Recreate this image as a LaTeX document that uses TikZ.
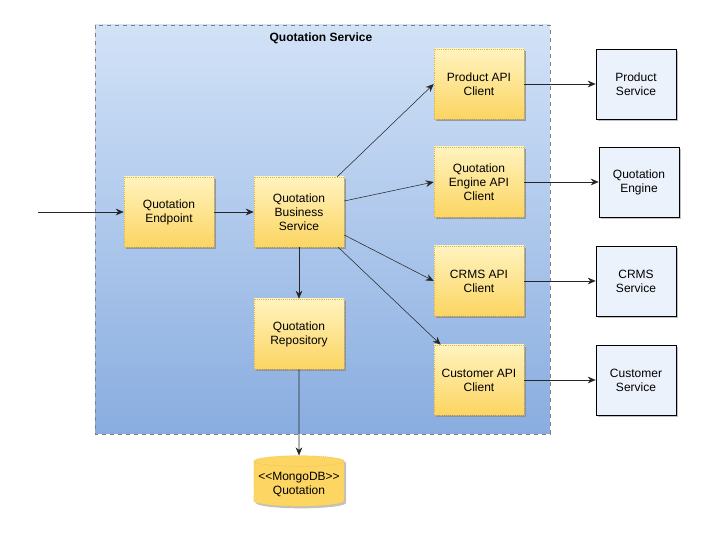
\documentclass[tikz,border=0pt]{standalone}
\usepackage{fontspec}
\setmainfont{Liberation Sans}
\usepackage{xcolor}
\usepackage{tikz}
\usetikzlibrary{arrows.meta,shapes.geometric,shadows,calc}

\definecolor{boxtop}{RGB}{255,243,190}
\definecolor{boxbottom}{RGB}{252,213,98}
\definecolor{boxline}{RGB}{214,182,86}
\definecolor{areatop}{RGB}{210,226,247}
\definecolor{areamid}{RGB}{188,208,240}
\definecolor{areabottom}{RGB}{137,173,224}
\definecolor{svcfill}{RGB}{236,242,251}

\begin{document}
\begin{tikzpicture}[x=0.75pt,y=-0.75pt,
	font=\fontsize{9}{10.5}\selectfont,
	part/.style={draw=boxline, densely dotted, top color=boxtop, bottom color=boxbottom,
		minimum width=67.5pt, minimum height=52.5pt, align=center,
		drop shadow={shadow xshift=1.5pt, shadow yshift=-1.5pt, fill=black!45, opacity=0.8}},
	svc/.style={draw=black, fill=svcfill, minimum width=60pt, minimum height=52.5pt, align=center,
		drop shadow={shadow xshift=1.5pt, shadow yshift=-1.5pt, fill=black!30, opacity=0.8}},
	arr/.style={-{Stealth[length=6pt,width=5pt]}, black!85}]
	\useasboundingbox (0,0) rectangle (715,538);
	% container
	\draw[gray, dashed, top color=areatop, middle color=areamid, bottom color=areabottom] (95,25) rectangle (550,434);
	\node[font=\fontsize{9}{10.5}\selectfont\bfseries] at (321,38) (title) {Quotation Service};
	% parts inside the service
	\node[part] at (169,212) (ep) {Quotation\\Endpoint};
	\node[part] at (299,212) (biz) {Quotation\\Business\\Service};
	\node[part] at (299,334) (repo) {Quotation\\Repository};
	\node[part] at (479,84) (prod) {Product API\\Client};
	\node[part] at (479,182) (eng) {Quotation\\Engine API\\Client};
	\node[part] at (479,281) (crms) {CRMS API\\Client};
	\node[part] at (479,380) (cust) {Customer API\\Client};
	% outside services
	\node[svc] at (636,84) (prodsvc) {Product\\Service};
	\node[svc] at (639,182) (engsvc) {Quotation\\Engine};
	\node[svc] at (636,281) (crmssvc) {CRMS\\Service};
	\node[svc] at (636,380) (custsvc) {Customer\\Service};
	\node[cylinder, shape border rotate=90, aspect=0.12, draw=boxline, densely dotted, fill=boxbottom,
		minimum width=67.5pt, minimum height=38pt, align=center,
		drop shadow={shadow xshift=1.5pt, shadow yshift=-1.5pt, fill=black!30, opacity=0.8}]
		at (299,485) (db) {\mbox{<}\mbox{<}MongoDB\mbox{>}\mbox{>}\\Quotation};
	\coordinate (in) at (38,212);
	\draw[arr] (in) -- (ep);
	\draw[arr] (ep) -- (biz);
	\draw[arr] ($(biz.north east)+(-7,0)$) -- (prod.west);
	\draw[arr] ($(biz.east)+(0,-11)$) -- (eng.west);
	\draw[arr] ($(biz.east)+(0,23)$) -- (crms.west);
	\draw[arr] ($(biz.south east)+(-6,0)$) -- ($(cust.north west)+(7,0)$);
	\draw[arr] (biz) -- (repo);
	\draw[arr] (repo) -- (db.north);
	\draw[arr] (prod) -- (prodsvc);
	\draw[arr] (eng) -- (engsvc);
	\draw[arr] (crms) -- (crmssvc);
	\draw[arr] (cust) -- (custsvc);
\end{tikzpicture}
\end{document}
